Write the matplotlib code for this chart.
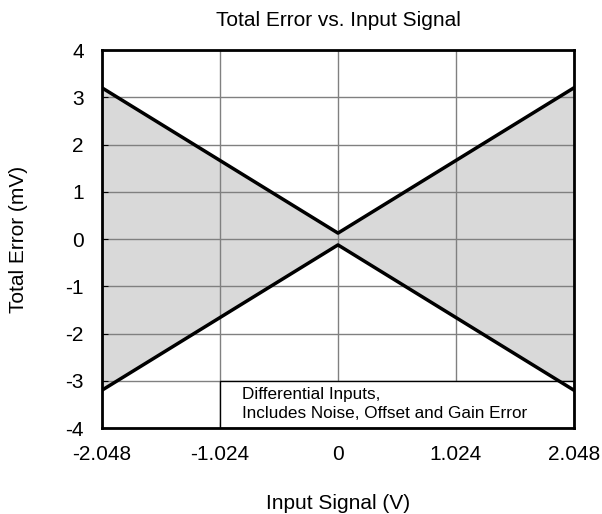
import matplotlib.pyplot as plt
from matplotlib.patches import Rectangle

plt.rcParams['font.family'] = ['Liberation Sans', 'DejaVu Sans']
plt.rcParams['axes.unicode_minus'] = False

# input signal (V) and error bounds (mV)
x_vals = [-2.048, 0, 2.048]
upper = [3.2, 0.125, 3.2]
lower = [-3.2, -0.125, -3.2]
x_ticks = [-2.048, -1.024, 0, 1.024, 2.048]
x_labels = ['-2.048', '-1.024', '0', '1.024', '2.048']
y_ticks = [-4, -3, -2, -1, 0, 1, 2, 3, 4]

fig = plt.figure(figsize=(6.02, 5.14), dpi=100)
ax = fig.add_axes([0.1694, 0.1673, 0.784, 0.7354])

ax.fill_between(x_vals, lower, upper, color='#d9d9d9', lw=0, zorder=1)
ax.plot(x_vals, upper, color='black', lw=2.5, zorder=6)
ax.plot(x_vals, lower, color='black', lw=2.5, zorder=6)

ax.set_xlim(-2.048, 2.048)
ax.set_ylim(-4, 4)
ax.set_xticks(x_ticks)
ax.set_xticklabels(x_labels)
ax.set_yticks(y_ticks)
ax.grid(True, color='#808080', lw=1, zorder=2)
ax.set_axisbelow(False)
ax.tick_params(direction='in', length=4, labelsize=15)
ax.tick_params(axis='x', pad=12)
ax.tick_params(axis='y', pad=13)
for s in ax.spines.values():
    s.set_linewidth(2)
    s.set_zorder(7)

# note box in the lower right
ax.add_patch(Rectangle((-1.024, -4), 3.072, 1, fc='white', ec='black', lw=1, zorder=4))
ax.text(-0.835, -3.5, 'Differential Inputs,\nIncludes Noise, Offset and Gain Error',
        fontsize=12.3, va='center', ha='left', linespacing=1.35, zorder=5)

ax.set_title('Total Error vs. Input Signal', fontsize=15, pad=17)
ax.set_xlabel('Input Signal (V)', fontsize=15, labelpad=22)
ax.set_ylabel('Total Error (mV)', fontsize=15, labelpad=27)

fig.savefig('out.png', dpi=100)
